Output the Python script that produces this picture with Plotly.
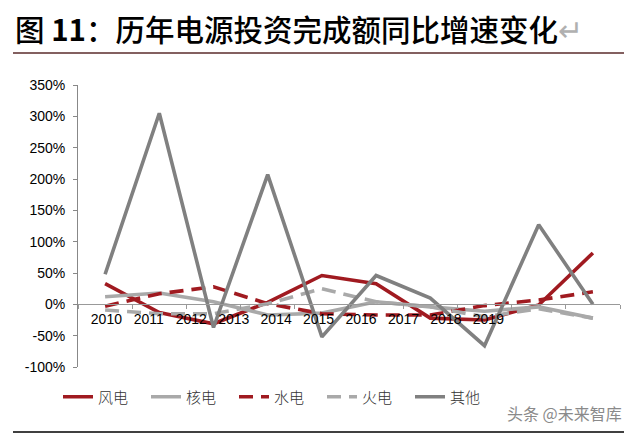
import plotly.graph_objects as go

years = [2010, 2011, 2012, 2013, 2014, 2015, 2016, 2017, 2018, 2019]
year_labels = [str(y) for y in years]

wind = [33, -13, -31, 3, 46, 33, -22, -25, -1, 82]        # 风电
nuclear = [12, 18, 4, -17, -14, 4, -4, -11, -4, -22]      # 核电
hydro = [-3, 17, 28, 1, -15, -17, -17, -2, 7, 20]         # 水电
thermal = [-9, -15, -15, 1, 25, 4, -4, -20, -7, -22]      # 火电
other = [48, 305, -37, 207, -52, 46, 10, -66, 127, 0]     # 其他

y_ticks = [-100, -50, 0, 50, 100, 150, 200, 250, 300, 350]
y_labels = [f"{v}%" for v in y_ticks]

RED = "#a01a20"
LIGHT = "#a9a9a9"
DARK = "#808080"

series = [
    ("风电", wind, RED, "solid"),
    ("核电", nuclear, LIGHT, "solid"),
    ("水电", hydro, RED, "14px,8px"),
    ("火电", thermal, LIGHT, "14px,8px"),
    ("其他", other, DARK, "solid"),
]

fig = go.Figure()
for name, values, color, dash in series:
    fig.add_trace(
        go.Scatter(
            x=years,
            y=values,
            mode="lines",
            name=name,
            line=dict(color=color, width=3.6, dash=dash),
        )
    )

# year labels in the source sit offset from the data columns
label_pos = [2009.5 + 0.524 + i * 0.783 for i in range(len(years))]

# page body adds an 8px margin, so work in page pixels and shift back
OFF = 8
W, H = 635 - OFF, 435 - OFF
L, R, T, B = 78 - OFF, 23 - OFF, 85 - OFF, 76 - OFF
PW, PH = W - L - R, H - T - B


def px_x(x):
    return (x - OFF - L) / PW


def px_y(y):
    return (H - B - (y - OFF)) / PH


fig.update_layout(
    width=W,
    height=H,
    margin=dict(l=L, r=R, t=T, b=B, autoexpand=False),
    paper_bgcolor="white",
    plot_bgcolor="white",
    font=dict(family="Liberation Sans, Arial", size=14, color="black"),
    showlegend=True,
    legend=dict(
        orientation="h",
        x=px_x(58),
        xanchor="left",
        y=px_y(397),
        yanchor="middle",
        entrywidth=43,
        entrywidthmode="pixels",
        font=dict(family="Noto Sans CJK SC", size=15, color="#333333", weight=300),
        bgcolor="rgba(0,0,0,0)",
        itemwidth=30,
    ),
    xaxis=dict(
        range=[2009.5, 2019.5],
        anchor="free",
        position=100 / 450,
        showline=True,
        linecolor="#999999",
        linewidth=1,
        showgrid=False,
        zeroline=False,
        tickmode="array",
        tickvals=label_pos,
        ticktext=year_labels,
        ticks="",
        ticklabelstandoff=2,
        tickfont=dict(size=14, color="black"),
        minor=dict(
            tickmode="array",
            tickvals=[2009.5 + k for k in range(11)],
            ticks="outside",
            ticklen=4,
            tickcolor="#999999",
            showgrid=False,
        ),
    ),
    yaxis=dict(
        range=[-100, 350],
        showline=True,
        linecolor="#888888",
        linewidth=1,
        showgrid=False,
        zeroline=False,
        tickmode="array",
        tickvals=y_ticks,
        ticktext=y_labels,
        ticks="outside",
        ticklen=4,
        tickcolor="#888888",
        ticklabelstandoff=5,
        tickfont=dict(size=14, color="black"),
    ),
)

# title and report rules
fig.add_annotation(
    text="图 <b>11</b>：历年电源投资完成额同比增速变化<span style='color:#b0b0b0'>↵</span>",
    xref="paper", yref="paper",
    x=px_x(13), y=px_y(28),
    xanchor="left", yanchor="middle",
    showarrow=False,
    font=dict(family="Noto Sans CJK SC", size=29.5, color="black", weight=500),
)
fig.add_annotation(
    text="头条 @未来智库",
    xref="paper", yref="paper",
    x=px_x(505), y=px_y(413),
    xanchor="left", yanchor="middle",
    showarrow=False,
    font=dict(family="Noto Sans CJK SC", size=16, color="#8a8a8a"),
)
for y_px, color in [(3, "black"), (53, "#5a2b2b"), (432, "black")]:
    fig.add_shape(
        type="line", xref="paper", yref="paper",
        x0=px_x(13), x1=px_x(624),
        y0=px_y(y_px), y1=px_y(y_px),
        line=dict(color=color, width=1.5),
    )

fig.write_html("out.html")
